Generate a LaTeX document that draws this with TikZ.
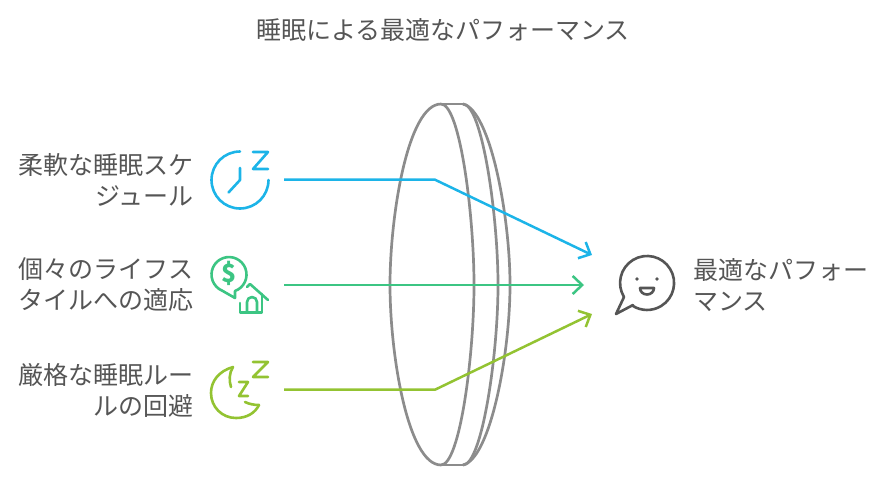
\documentclass[tikz,border=0pt]{standalone}
\usepackage{fontspec}
\setmainfont{Noto Sans CJK JP}
\usetikzlibrary{arrows.meta}

\definecolor{sleepblue}{HTML}{1CB4E8}
\definecolor{lifegreen}{HTML}{3CC583}
\definecolor{rulelime}{HTML}{93C332}
\definecolor{lensgray}{HTML}{8C8C8C}
\definecolor{textgray}{HTML}{555555}

\tikzset{
  label/.style={text=textgray, inner sep=0pt, font=\fontsize{25}{31}\selectfont},
  lens/.style={draw=lensgray, line width=2.7pt},
  link/.style={line width=2.5pt, -{Straight Barb[length=9.5pt, width=18pt, line width=2.5pt]}},
  icon/.style={line width=2.6pt, line cap=round, line join=round}
}

\begin{document}
\begin{tikzpicture}[x=1pt, y=-1pt]
\useasboundingbox (0, 0) rectangle (885, 482);

%% title
\node[label] (title) at (443, 30) {睡眠による最適なパフォーマンス};

%% lens
\draw[lens] (441, 104) .. controls (408, 104) and (390, 215) .. (390, 285)
            .. controls (390, 355) and (408, 465) .. (441, 465);
\draw[lens] (441, 104) .. controls (460, 104) and (474, 215) .. (474, 285)
            .. controls (474, 355) and (460, 465) .. (441, 465);
\draw[lens] (441, 104) -- (463, 104);
\draw[lens] (441, 465) -- (463, 465);
\draw[lens] (463, 104) .. controls (482, 104) and (498, 215) .. (498, 285)
            .. controls (498, 355) and (482, 465) .. (463, 465);
\draw[lens] (463, 104) .. controls (490, 110) and (510, 215) .. (510, 285)
            .. controls (510, 355) and (490, 459) .. (463, 465);

%% labels
\node[label, align=right, anchor=east] (flexible) at (194, 180) {柔軟な睡眠スケ\\ジュール};
\node[label, align=right, anchor=east] (lifestyle) at (194, 285) {個々のライフス\\タイルへの適応};
\node[label, align=right, anchor=east] (strict) at (194, 390) {厳格な睡眠ルー\\ルの回避};
\node[label, align=left, anchor=west] (optimal) at (693, 285) {最適なパフォー\\マンス};

%% connectors
\coordinate (flexibleStart) at (284, 179.7);
\coordinate (flexibleBend) at (435, 179.7);
\coordinate (flexibleEnd) at (592, 255);
\coordinate (lifestyleStart) at (284, 285);
\coordinate (lifestyleEnd) at (584, 285);
\coordinate (strictStart) at (284, 389.7);
\coordinate (strictBend) at (435, 389.7);
\coordinate (strictEnd) at (592, 314);
\draw[link, sleepblue] (flexibleStart) -- (flexibleBend) -- (flexibleEnd);
\draw[link, lifegreen] (lifestyleStart) -- (lifestyleEnd);
\draw[link, rulelime] (strictStart) -- (strictBend) -- (strictEnd);

%% clock icon
\draw[icon, sleepblue] (240, 151.5) arc [start angle=-90, end angle=-360, radius=28.5];
\draw[icon, sleepblue] (240, 168) -- (240, 180) -- (228.5, 192.5);
\draw[icon, sleepblue] (253, 152) -- (268, 152) -- (253, 169) -- (268, 169);

%% money and house icon
\draw[icon, lifegreen] (235, 291) arc [start angle=70, end angle=-247, radius=17.5] -- (235, 298) -- cycle;
\node[text=lifegreen, inner sep=0pt, font=\fontsize{25}{25}\selectfont\bfseries] (dollar) at (229, 273) {\$};
\draw[icon, lifegreen] (240, 303) -- (240, 312.5) -- (262, 312.5) -- (262, 294);
\draw[icon, lifegreen] (247, 287) -- (250, 284) -- (268, 300);
\draw[icon, lifegreen] (247, 312.5) -- (247, 302) arc [start angle=180, end angle=360, x radius=5, y radius=5] -- (257, 312.5);

%% sleeping moon icon
\draw[icon, rulelime] (233, 367) .. controls (219, 371) and (211, 381) .. (211, 393)
      .. controls (211, 407) and (222, 418) .. (236, 418)
      .. controls (247, 418) and (255, 413) .. (259, 405);
\draw[icon, rulelime] (233, 367) .. controls (229, 373) and (229, 381) .. (231, 387);
\draw[icon, rulelime] (259, 405) .. controls (254, 405) and (249, 404) .. (245, 402);
\draw[icon, rulelime] (239, 382) -- (248, 382) -- (239, 396) -- (248, 396);
\draw[icon, rulelime] (253, 362) -- (268, 362) -- (253, 377) -- (268, 377);

%% smiley icon
\draw[icon, textgray] (624, 297) -- (616, 314) -- (633, 305);
\draw[icon, textgray] (624, 297) arc [start angle=148.7, end angle=482.5, radius=27];
\fill[textgray] (637, 279) circle (1.8);
\fill[textgray] (657, 279) circle (1.8);
\draw[icon, textgray] (640, 288) -- (654, 288) arc [start angle=0, end angle=180, x radius=7, y radius=6.5];
\end{tikzpicture}
\end{document}
